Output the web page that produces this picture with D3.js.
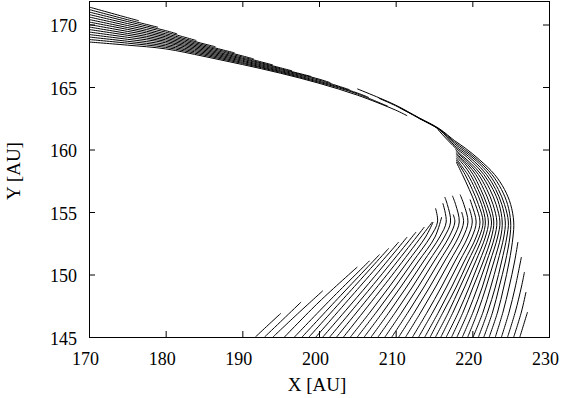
<!DOCTYPE html>
<html>
<head>
<meta charset="utf-8">
<script src="https://cdn.jsdelivr.net/npm/d3@7"></script>
<style>
  body { margin: 0; background: #fff; }
  svg { display: block; }
</style>
</head>
<body>
<svg id="chart"></svg>
<script>
// tick values
var xTicks = [170, 180, 190, 200, 210, 220, 230];
var yTicks = [145, 150, 155, 160, 165, 170];

// upper band: tracks coming in from the left edge (x, y in AU)
var upperLines = [
  [[170,171.4],[175,170.55],[176.5,170.3]],
  [[170,171.2],[175,170.39],[179,169.78]],
  [[170,171.0],[175,170.24],[180,169.51],[181.5,169.25]],
  [[170,170.8],[175,170.08],[180,169.39],[184,168.72]],
  [[170,170.6],[175,169.92],[180,169.26],[185,168.45],[186.5,168.22]],
  [[170,170.4],[175,169.76],[180,169.14],[185,168.35],[189,167.73]],
  [[170,170.2],[175,169.61],[180,169.02],[185,168.25],[190,167.49],[191.5,167.24]],
  [[170,170.0],[175,169.45],[180,168.9],[185,168.15],[190,167.4],[194,166.76]],
  [[170,169.8],[175,169.29],[180,168.78],[185,168.05],[190,167.31],[195,166.53],[196.5,166.29]],
  [[170,169.6],[175,169.14],[180,168.66],[185,167.95],[190,167.23],[195,166.46],[199,165.84]],
  [[170,169.4],[175,168.98],[180,168.54],[185,167.85],[190,167.14],[195,166.39],[200,165.63],[201.5,165.34]],
  [[170,169.2],[175,168.82],[180,168.41],[185,167.75],[190,167.06],[195,166.31],[200,165.55],[204,164.78]],
  [[170,169.0],[175,168.66],[180,168.29],[185,167.65],[190,166.97],[195,166.24],[200,165.46],[205,164.52],[206.5,164.16]],
  [[170,168.8],[175,168.51],[180,168.17],[185,167.55],[190,166.89],[195,166.17],[200,165.38],[205,164.45],[209,163.45]],
  [[170,168.6],[175,168.35],[180,168.05],[185,167.45],[190,166.8],[195,166.1],[200,165.3],[205,164.35],[210,163.15],[211.5,162.7]]
];

// lower fan: tracks starting on the bottom edge, ending below the turn
var lowerLines = [
  [[191.7,145],[193.36,145.95],[195.03,146.9]],
  [[192.9,145],[195.29,146.4],[197.67,147.8]],
  [[194.0,145],[197.2,146.85],[200.5,148.7]],
  [[195.5,145],[200.0,147.8],[205.0,150.6]],
  [[196.8,145],[201.6,148.05],[206.6,151.1]],
  [[197.8,145],[202.8,148.3],[207.9,151.6]],
  [[198.7,145],[203.9,148.55],[209.1,152.1]],
  [[199.6,145],[205.0,148.8],[210.4,152.6]],
  [[200.5,145],[206.1,149.0],[211.5,153.0]],
  [[201.4,145],[207.1,149.2],[212.66,153.4]],
  [[202.3,145],[208.1,149.4],[213.74,153.8]],
  [[203.2,145],[209.1,149.6],[214.78,154.2]],
  [[204.1,145],[206.68,147],[209.15,149],[211.53,151],[213.9,153],[214.89,154.2]],
  [[205.0,145],[207.5,147],[209.91,149],[212.21,151],[214.52,153],[215.46,154.2],[215.2,155.3]],
  [[205.9,145],[208.33,147],[210.66,149],[212.9,151],[215.13,153],[216.0,154.6]],
  [[206.8,145],[209.16,147],[211.42,149],[213.58,151],[215.74,153],[216.59,154.2],[216.15,155.7]],
  [[207.7,145],[209.99,147],[212.18,149],[214.26,151],[216.35,153],[217.16,154.2],[216.74,155.6],[216.4,156.2]],
  [[208.6,145],[210.82,147],[212.93,149],[214.95,151],[216.96,153],[217.72,154.2],[217.5,154.8]],
  [[209.5,145],[211.64,147],[213.69,149],[215.63,151],[217.58,153],[218.29,154.2],[217.82,155.6],[217.4,156.3]],
  [[210.4,145],[212.47,147],[214.44,149],[216.32,151],[218.19,153],[218.86,154.2],[218.6,155.0]],
  [[211.3,145],[213.3,147],[215.2,149],[217.0,151],[218.8,153],[219.43,154.2],[218.9,155.6],[218.4,156.4]],
  [[212.2,145],[214.13,147],[215.96,149],[217.68,151],[219.41,153],[219.99,154.2],[219.6,155.3]],
  [[213.0,145],[214.86,147],[216.63,149],[218.29,151],[219.96,153],[220.5,154.2],[219.92,155.6],[219.7,156.0]]
];

// tracks that wrap round the turn
var bendLines = [
  [[213.8,145],[215.6,147],[217.3,149],[218.9,151],[220.5,153],[221.0,154.2],[220.4,155.6],[219.6,156.8],[218.7,158],[217.9,159.0]],
  [[214.5,145],[216.2,147],[217.9,149],[219.4,151],[220.9,153],[221.4,154.2],[220.8,155.6],[220.0,156.8],[219.05,158],[217.9,159.15]],
  [[215.2,145],[216.9,147],[218.4,149],[219.9,151],[221.3,153],[221.7,154.2],[221.2,155.6],[220.4,156.8],[219.4,158],[218.7,158.6],[217.9,159.3]],
  [[215.9,145],[217.5,147],[219.0,149],[220.4,151],[221.7,153],[222.1,154.2],[221.55,155.6],[220.75,156.8],[219.75,158],[218.95,158.7],[217.9,159.45]],
  [[216.6,145],[218.2,147],[219.6,149],[220.9,151],[222.1,153],[222.5,154.2],[221.9,155.6],[221.1,156.8],[220.1,158],[219.2,158.75],[217.9,159.6]],
  [[217.3,145],[218.8,147],[220.1,149],[221.4,151],[222.5,153],[222.8,154.2],[222.3,155.6],[221.5,156.8],[220.45,158],[219.4,158.8],[217.85,159.7]],
  [[218.0,145],[219.45,147],[220.7,149],[221.85,151],[222.9,153],[223.2,154.2],[222.7,155.6],[221.9,156.8],[220.8,158],[219.6,158.85],[217.85,159.85]],
  [[218.7,145],[220.1,147],[221.3,149],[222.3,151],[223.3,153],[223.6,154.2],[223.1,155.6],[222.3,156.8],[221.15,158],[219.8,158.9],[218.6,159.55],[217.8,160.0]],
  [[219.4,145],[220.7,147],[221.8,149],[222.8,151],[223.7,153],[223.9,154.2],[223.5,155.6],[222.7,156.8],[221.5,158],[220.0,159.0],[218.7,159.7],[217.75,160.15],[215.5,161.6]],
  [[220.1,145],[221.4,147],[222.4,149],[223.3,151],[224.1,153],[224.3,154.2],[223.85,155.6],[223.05,156.8],[221.85,158],[220.25,159.05],[218.8,159.8],[217.7,160.3],[215.7,161.58],[213.0,162.5]],
  [[220.8,145],[222.0,147],[223.0,149],[223.8,151],[224.5,153],[224.7,154.2],[224.2,155.6],[223.4,156.8],[222.2,158],[220.5,159.1],[218.9,159.9],[217.7,160.45],[215.7,161.6],[213.1,162.48],[210.5,163.35]],
  [[221.5,145],[222.65,147],[223.5,149],[224.3,151],[224.9,153],[225.0,154.2],[224.6,155.6],[223.8,156.8],[222.55,158],[220.7,159.15],[219.0,160.0],[217.7,160.58],[215.7,161.63],[213.1,162.5],[210.0,163.5],[207.8,164.1]],
  [[222.2,145],[223.3,147],[224.1,149],[224.8,151],[225.3,153],[225.4,154.2],[225.0,155.6],[224.2,156.8],[222.9,158],[220.9,159.2],[219.1,160.1],[217.7,160.7],[215.7,161.66],[213.1,162.52],[210.0,163.55],[207.9,164.12],[205.0,164.85]]
];

// outermost short tracks on the right
var outerLines = [
  [[223.0,145],[224.0,147],[224.8,149],[225.5,151],[225.95,152.6]],
  [[223.8,145],[224.8,147],[225.6,149],[226.4,151.4]],
  [[224.6,145],[225.6,147],[226.4,149],[226.8,150.2]],
  [[225.4,145],[226.4,147],[227.0,148.6]],
  [[226.2,145],[226.7,146],[227.2,147.0]]
];

var w = 566, h = 398;
var plotL = 89, plotR = 549, plotT = 1, plotB = 337;
var serif = '"Liberation Serif", "Times New Roman", serif';

var x = d3.scaleLinear().domain([170, 230]).range([plotL, plotR]);
var y = d3.scaleLinear().domain([145, 171.88]).range([plotB, plotT]);

var svg = d3.select("#chart").attr("width", w).attr("height", h);

svg.append("rect").attr("width", w).attr("height", h).attr("fill", "#fff");

svg.append("clipPath").attr("id", "plotclip")
  .append("rect")
  .attr("x", plotL + 0.5).attr("y", plotT + 0.5)
  .attr("width", plotR - plotL).attr("height", plotB - plotT);

// tracks
var line = d3.line()
  .x(function(d) { return x(d[0]); })
  .y(function(d) { return y(d[1]); })
  .curve(d3.curveCatmullRom.alpha(0.5));

var allLines = upperLines.concat(lowerLines, bendLines, outerLines);

svg.append("g")
  .attr("clip-path", "url(#plotclip)")
  .selectAll("path")
  .data(allLines)
  .enter()
  .append("path")
  .attr("d", line)
  .attr("fill", "none")
  .attr("stroke", "#000")
  .attr("stroke-width", 1);

// axes, ticks pointing inward on all four sides
function styleAxis(g) {
  g.select(".domain").remove();
  g.selectAll("line").attr("stroke", "#000");
  g.attr("font-family", serif).attr("font-size", 18);
  g.selectAll("text").attr("fill", "#000");
}

svg.append("g")
  .attr("transform", "translate(0," + plotB + ")")
  .call(d3.axisBottom(x).tickValues(xTicks).tickSize(-6).tickPadding(15).tickFormat(d3.format("d")))
  .call(styleAxis)
  .selectAll("text").attr("dx", -4);

svg.append("g")
  .attr("transform", "translate(0," + plotT + ")")
  .call(d3.axisTop(x).tickValues(xTicks).tickSize(-6).tickFormat(""))
  .call(styleAxis);

svg.append("g")
  .attr("transform", "translate(" + plotL + ",0)")
  .call(d3.axisLeft(y).tickValues(yTicks).tickSize(-6).tickPadding(12).tickFormat(d3.format("d")))
  .call(styleAxis)
  .selectAll("text").attr("dy", "0.4em");

svg.append("g")
  .attr("transform", "translate(" + plotR + ",0)")
  .call(d3.axisRight(y).tickValues(yTicks).tickSize(-6).tickFormat(""))
  .call(styleAxis);

// frame
svg.append("rect")
  .attr("x", plotL + 0.5).attr("y", plotT + 0.5)
  .attr("width", plotR - plotL).attr("height", plotB - plotT)
  .attr("fill", "none")
  .attr("stroke", "#000")
  .attr("stroke-width", 1);

// axis titles
svg.append("text")
  .attr("x", (plotL + plotR) / 2 - 2).attr("y", 391)
  .attr("text-anchor", "middle")
  .attr("font-family", serif).attr("font-size", 19)
  .text("X [AU]");

svg.append("text")
  .attr("transform", "translate(20,171) rotate(-90)")
  .attr("text-anchor", "middle")
  .attr("font-family", serif).attr("font-size", 19)
  .text("Y [AU]");
</script>
</body>
</html>
